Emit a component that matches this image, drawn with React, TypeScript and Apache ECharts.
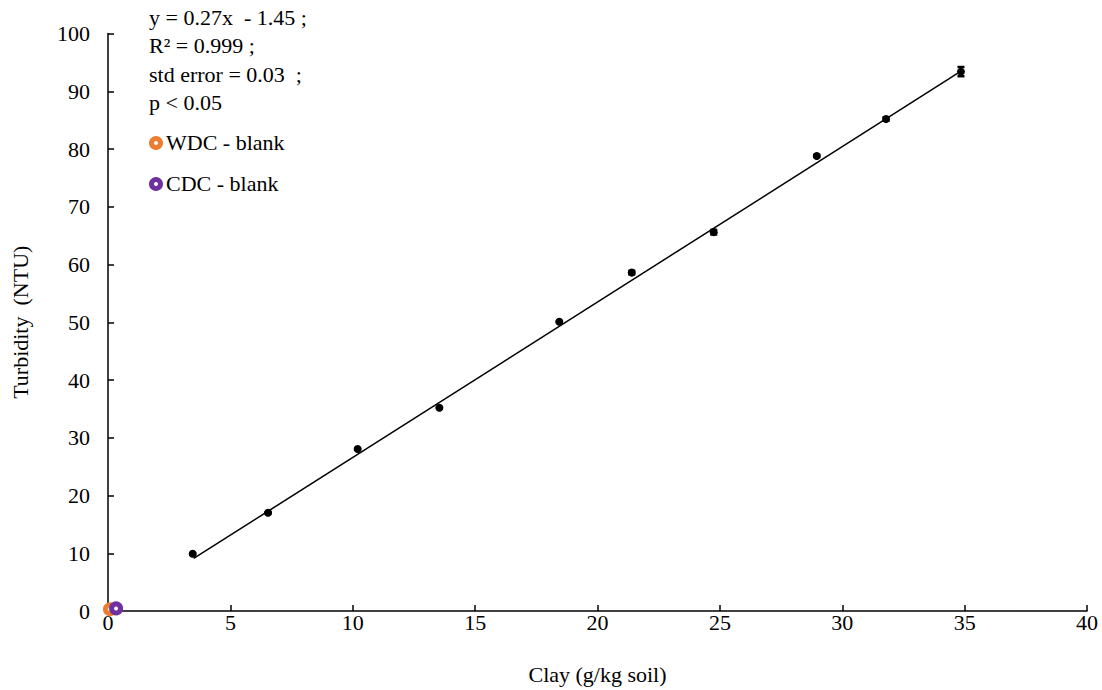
import React, { useEffect, useRef } from "react";
import * as echarts from "echarts";

const clayX = [3.46, 6.54, 10.2, 13.54, 18.44, 21.4, 24.75, 28.96, 31.79, 34.85];
const turbY = [9.9, 17.0, 28.05, 35.2, 50.1, 58.6, 65.6, 78.8, 85.2, 93.4];
const errY = [0.1, 0.1, 0.1, 0.1, 0.1, 0.3, 0.4, 0.2, 0.3, 0.8];
const fitX = [3.5, 34.9];
const fitY = [9.1, 93.6];
const wdcBlank = [0.08, 0.3];
const cdcBlank = [0.33, 0.45];
const xTicks = [0, 5, 10, 15, 20, 25, 30, 35, 40];
const yTicks = [0, 10, 20, 30, 40, 50, 60, 70, 80, 90, 100];
const annotation = ["y = 0.27x  - 1.45 ;", "R² = 0.999 ;", "std error = 0.03  ;", "p < 0.05"];
const legendNames = ["WDC - blank", "CDC - blank"];
const ORANGE = "#ED7D31";
const PURPLE = "#7030A0";
const FONT = "Liberation Serif";

export default function App() {
  const ref = useRef<HTMLDivElement>(null);
  useEffect(() => {
    if (!ref.current) return;
    const chart = echarts.init(ref.current, null, { renderer: "svg" });
    const fs = 22;
    const graphic: any[] = annotation.map((t, i) => ({
      type: "text",
      left: 149,
      top: 6 + i * 28.5,
      style: { text: t, font: `${fs}px "${FONT}"`, fill: "#000" },
    }));
    const legendColors = [ORANGE, PURPLE];
    legendNames.forEach((n, i) => {
      const cy = 143 + i * 41;
      graphic.push({
        type: "circle",
        shape: { cx: 156, cy, r: 4.5 },
        style: { fill: "#fff", stroke: legendColors[i], lineWidth: 5 },
      });
      graphic.push({
        type: "text",
        left: 166,
        top: cy - 12,
        style: { text: n, font: `${fs}px "${FONT}"`, fill: "#000" },
      });
    });
    chart.setOption({
      animation: false,
      grid: { left: 108, right: 15, top: 33.5, bottom: 75.5, containLabel: false },
      textStyle: { fontFamily: FONT },
      xAxis: {
        type: "value",
        min: 0,
        max: 40,
        interval: 5,
        name: "Clay (g/kg soil)",
        nameLocation: "middle",
        nameGap: 52,
        nameTextStyle: { fontFamily: FONT, fontSize: fs, color: "#000" },
        axisLine: { lineStyle: { color: "#000", width: 1.5 } },
        axisTick: { inside: true, length: 6, lineStyle: { color: "#000", width: 1.5 } },
        axisLabel: { fontFamily: FONT, fontSize: fs, color: "#000", margin: 0, formatter: (v: number) => (xTicks.includes(v) ? String(v) : "") },
        splitLine: { show: false },
      },
      yAxis: {
        type: "value",
        min: 0,
        max: 100,
        interval: 10,
        name: "Turbidity  (NTU)",
        nameLocation: "middle",
        nameGap: 77,
        nameTextStyle: { fontFamily: FONT, fontSize: fs, color: "#000" },
        axisLine: { show: true, lineStyle: { color: "#000", width: 1.5 } },
        axisTick: { show: true, inside: true, length: 6, lineStyle: { color: "#000", width: 1.5 } },
        axisLabel: { fontFamily: FONT, fontSize: fs, color: "#000", margin: 18, formatter: (v: number) => (yTicks.includes(v) ? String(v) : "") },
        splitLine: { show: false },
      },
      graphic,
      series: [
        {
          type: "line",
          data: fitX.map((x, i) => [x, fitY[i]]),
          symbol: "none",
          lineStyle: { color: "#000", width: 1.5 },
          z: 2,
        },
        {
          type: "custom",
          data: clayX.map((x, i) => [x, turbY[i], errY[i]]),
          renderItem: (params: any, api: any) => {
            const x = api.value(0);
            const y = api.value(1);
            const e = api.value(2);
            const hi = api.coord([x, y + e]);
            const lo = api.coord([x, y - e]);
            const w = 3.5;
            const style = { stroke: "#000", lineWidth: 2.5 };
            return {
              type: "group",
              children: [
                { type: "line", shape: { x1: hi[0], y1: hi[1], x2: lo[0], y2: lo[1] }, style },
                { type: "line", shape: { x1: hi[0] - w, y1: hi[1], x2: hi[0] + w, y2: hi[1] }, style },
                { type: "line", shape: { x1: lo[0] - w, y1: lo[1], x2: lo[0] + w, y2: lo[1] }, style },
              ],
            };
          },
          z: 3,
        },
        {
          type: "scatter",
          data: clayX.map((x, i) => [x, turbY[i]]),
          symbol: "circle",
          symbolSize: 8,
          itemStyle: { color: "#000", opacity: 1 },
          z: 4,
        },
        {
          type: "scatter",
          name: legendNames[0],
          data: [wdcBlank],
          symbol: "circle",
          symbolSize: 9,
          itemStyle: { color: "#fff", borderColor: ORANGE, borderWidth: 5, opacity: 1 },
          z: 5,
        },
        {
          type: "scatter",
          name: legendNames[1],
          data: [cdcBlank],
          symbol: "circle",
          symbolSize: 9,
          itemStyle: { color: "#fff", borderColor: PURPLE, borderWidth: 5, opacity: 1 },
          z: 6,
        },
      ],
    });
    return () => chart.dispose();
  }, []);
  return <div ref={ref} style={{ width: 1102, height: 690, position: "absolute", left: 0, top: 0 }} />;
}
